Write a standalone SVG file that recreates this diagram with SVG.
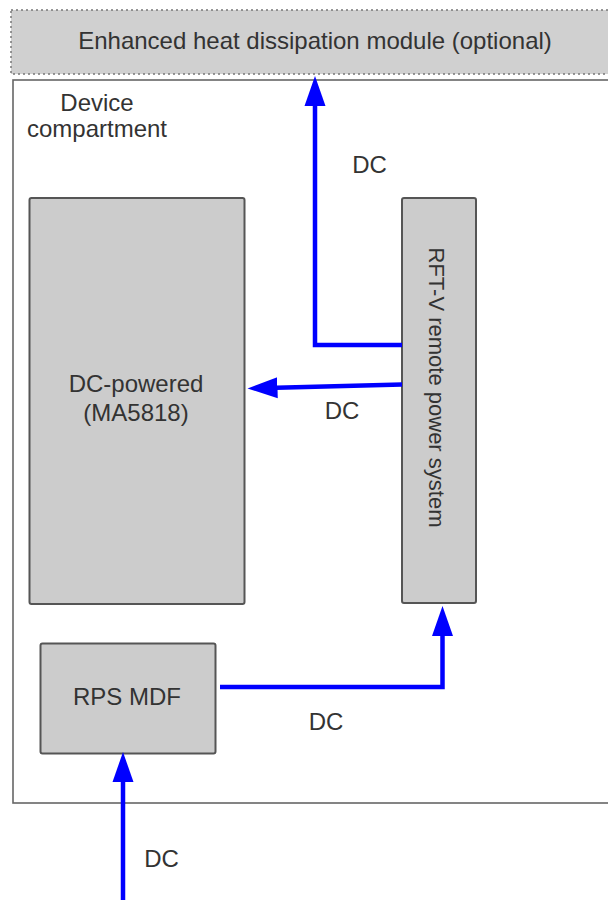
<svg xmlns="http://www.w3.org/2000/svg" width="608" height="900" viewBox="0 0 608 900">
<style>
  .lbl { font-family: "Liberation Sans", Arial, sans-serif; font-size: 24px; fill: #333333; }
  .box { fill: #cccccc; stroke: #555555; stroke-width: 2; }
  .wire { fill: none; stroke: #0000ff; stroke-width: 4.5; stroke-linejoin: miter; }
</style>
<defs>
  <marker id="arrow" viewBox="0 -11 31 22" markerWidth="31" markerHeight="22" refX="1" refY="0" markerUnits="userSpaceOnUse" orient="auto">
    <path d="M0,-10.5 L30,0 L0,10.5 z" fill="#0000ff"/>
  </marker>
</defs>
<rect width="608" height="900" fill="#ffffff"/>

<g id="heat-module">
  <rect x="11" y="10" width="610" height="64" fill="#d0d0d0" stroke="#777777" stroke-width="1.5" stroke-dasharray="2 3"/>
  <text class="lbl" x="315" y="48.5" text-anchor="middle">Enhanced heat dissipation module (optional)</text>
</g>

<g id="device-compartment">
  <rect x="13" y="80" width="610" height="723" fill="none" stroke="#666666" stroke-width="1.6"/>
  <text class="lbl" x="97" y="111" text-anchor="middle">Device</text>
  <text class="lbl" x="97" y="137" text-anchor="middle">compartment</text>
</g>

<g id="dc-powered">
  <rect class="box" x="29.5" y="198" width="215" height="406" rx="2"/>
  <text class="lbl" x="136" y="392" text-anchor="middle">DC-powered</text>
  <text class="lbl" x="136" y="421" text-anchor="middle">(MA5818)</text>
</g>

<g id="rftv">
  <rect class="box" x="402" y="198" width="74" height="405" rx="2"/>
  <text class="lbl" font-size="22" style="font-size:22px" text-anchor="middle" transform="translate(429,387.5) rotate(90)">RFT-V remote power system</text>
</g>

<g id="rps-mdf">
  <rect class="box" x="40.5" y="643.5" width="175" height="110" rx="2"/>
  <text class="lbl" x="127" y="705" text-anchor="middle">RPS MDF</text>
</g>

<g id="connectors">
  <path class="wire" d="M402,345 H315 V105" marker-end="url(#arrow)"/>
  <path class="wire" d="M402,384.5 L276.5,387.7" marker-end="url(#arrow)"/>
  <path class="wire" d="M220,687 H442.5 V635" marker-end="url(#arrow)"/>
  <path class="wire" d="M123,900 V781" marker-end="url(#arrow)"/>
</g>

<g id="labels">
  <text class="lbl" x="369.5" y="173" text-anchor="middle">DC</text>
  <text class="lbl" x="342" y="419" text-anchor="middle">DC</text>
  <text class="lbl" x="326" y="730" text-anchor="middle">DC</text>
  <text class="lbl" x="161.5" y="867" text-anchor="middle">DC</text>
</g>
</svg>
